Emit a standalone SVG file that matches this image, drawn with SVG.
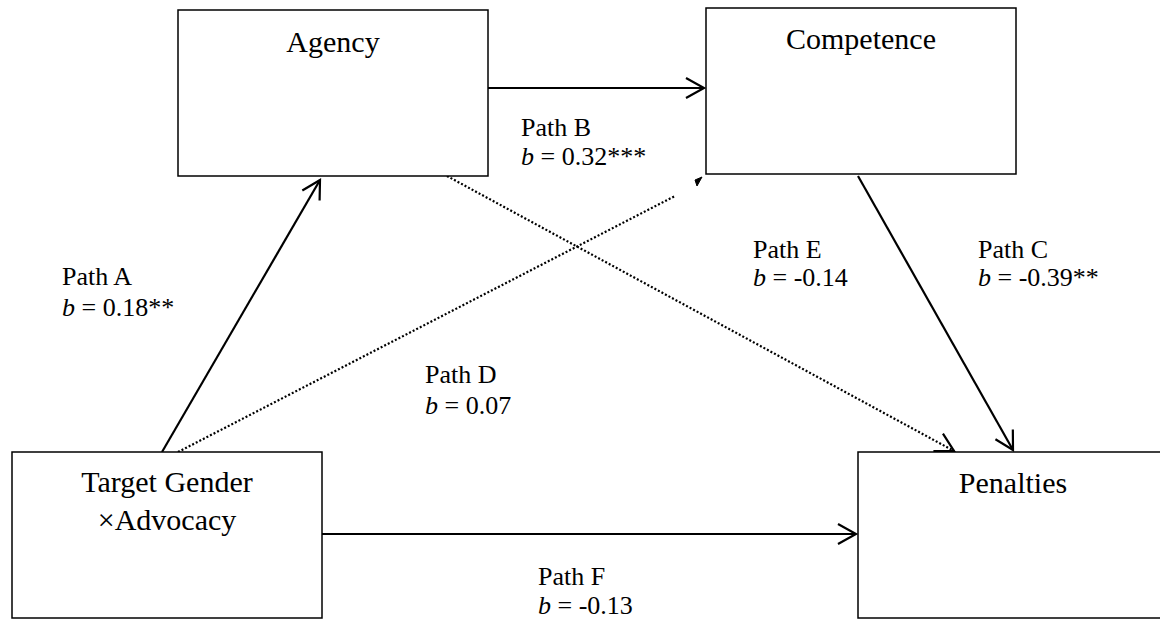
<svg xmlns="http://www.w3.org/2000/svg" width="1160" height="620" viewBox="0 0 1160 620">
<style>
.box{fill:#fff;stroke:#000;stroke-width:1.5}
.t{font-family:"Liberation Serif","Times New Roman",serif;font-size:30px;fill:#000}
.l{font-family:"Liberation Serif","Times New Roman",serif;font-size:26px;fill:#000}
.solid{stroke:#000;stroke-width:2.2;fill:none}
.dot{stroke:#000;stroke-width:2.2;fill:none;stroke-dasharray:2 2}
</style>
<defs>
<marker id="arr" markerUnits="userSpaceOnUse" markerWidth="24" markerHeight="24" viewBox="-20 -12 22 24" refX="0" refY="0" orient="auto">
<path d="M-18,-10 L0,0 L-18,10" fill="none" stroke="#000" stroke-width="2.2"/>
</marker>
</defs>
<rect width="1160" height="620" fill="#fff"/>
<g id="connectors">
<line class="solid" x1="488" y1="88" x2="704" y2="88" marker-end="url(#arr)"/>
<line class="solid" x1="322" y1="534" x2="856" y2="534" marker-end="url(#arr)"/>
<line class="solid" x1="162" y1="452" x2="320" y2="180" marker-end="url(#arr)"/>
<line class="solid" x1="858" y1="176" x2="1013" y2="450" marker-end="url(#arr)"/>
<line class="dot" x1="447" y1="176" x2="954" y2="451" marker-end="url(#arr)"/>
<line class="dot" x1="178" y1="452" x2="675" y2="196"/>
<path d="M697,186 L702,177 L695,180 Z" fill="#000" stroke="#000" stroke-width="1"/>
</g>
<g id="agency">
<rect class="box" x="178" y="10" width="310" height="166"/>
<text class="t" x="333" y="52" text-anchor="middle">Agency</text>
</g>
<g id="competence">
<rect class="box" x="706" y="8" width="310" height="166"/>
<text class="t" x="861" y="49" text-anchor="middle">Competence</text>
</g>
<g id="target">
<rect class="box" x="12" y="452" width="310" height="166"/>
<text class="t" x="167" y="492" text-anchor="middle">Target Gender</text>
<text class="t" x="167" y="530" text-anchor="middle">×Advocacy</text>
</g>
<g id="penalties">
<rect class="box" x="858" y="452" width="310" height="166"/>
<text class="t" x="1013" y="493" text-anchor="middle">Penalties</text>
</g>
<g id="labels">
<text class="l" x="521" y="136">Path B</text>
<text class="l" x="521" y="165"><tspan font-style="italic">b</tspan> = 0.32***</text>
<text class="l" x="62" y="285">Path A</text>
<text class="l" x="62" y="316"><tspan font-style="italic">b</tspan> = 0.18**</text>
<text class="l" x="425" y="383">Path D</text>
<text class="l" x="425" y="414"><tspan font-style="italic">b</tspan> = 0.07</text>
<text class="l" x="753" y="258">Path E</text>
<text class="l" x="753" y="286"><tspan font-style="italic">b</tspan> = -0.14</text>
<text class="l" x="978" y="258">Path C</text>
<text class="l" x="978" y="286"><tspan font-style="italic">b</tspan> = -0.39**</text>
<text class="l" x="538" y="585">Path F</text>
<text class="l" x="538" y="614"><tspan font-style="italic">b</tspan> = -0.13</text>
</g>
</svg>
